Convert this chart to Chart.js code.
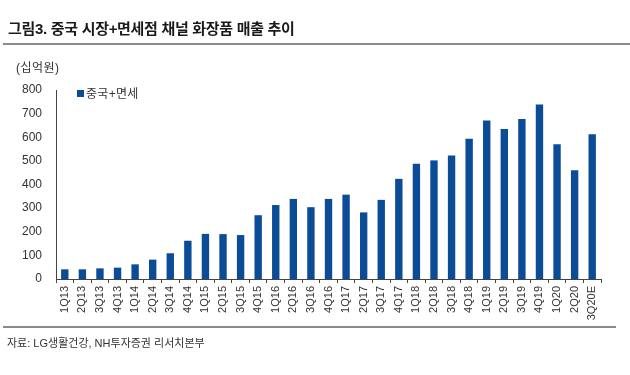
<!DOCTYPE html>
<html>
<head>
<meta charset="utf-8">
<script src="https://cdn.jsdelivr.net/npm/chart.js@4"></script>
<style>
  body { margin: 0; background: #fff; font-family: "Liberation Sans", "Noto Sans CJK KR", sans-serif; color: #222; }
  #wrap { position: relative; width: 630px; height: 375px; overflow: hidden; }
  #title { position: absolute; left: 8px; top: 17px; font-size: 15px; font-weight: bold; color: #1a1a1a; letter-spacing: -0.3px; }
  .rule { position: absolute; left: 3px; height: 2px; background: #8a8a8a; }
  #unit { position: absolute; left: 16px; top: 58px; font-size: 12px; color: #333; letter-spacing: 0.5px; }
  #legend { position: absolute; left: 77px; top: 84px; font-size: 12px; color: #333; letter-spacing: 0.3px; }
  #legend span { display: inline-block; width: 7px; height: 7px; background: #0b4c96; margin-right: 2px; vertical-align: 1px; }
  #source { position: absolute; left: 7px; top: 334px; font-size: 11px; color: #333; }
  canvas { position: absolute; left: 0; top: 0; }
</style>
</head>
<body>
<div id="wrap">
  <canvas id="salesChart" width="630" height="375"></canvas>
  <div id="title">그림3. 중국 시장+면세점 채널 화장품 매출 추이</div>
  <div class="rule" style="top:43px; width:627px;"></div>
  <div id="unit">(십억원)</div>
  <div id="legend"><span></span>중국+면세</div>
  <div class="rule" style="top:326px; width:613px;"></div>
  <div id="source">자료: LG생활건강, NH투자증권 리서치본부</div>
</div>
<script>
// 분기 라벨
const quarters = [
  "1Q13", "2Q13", "3Q13", "4Q13", "1Q14", "2Q14", "3Q14", "4Q14",
  "1Q15", "2Q15", "3Q15", "4Q15", "1Q16", "2Q16", "3Q16", "4Q16",
  "1Q17", "2Q17", "3Q17", "4Q17", "1Q18", "2Q18", "3Q18", "4Q18",
  "1Q19", "2Q19", "3Q19", "4Q19", "1Q20", "2Q20", "3Q20E"
];

// 중국+면세 매출 (십억원)
const chinaDutyFree = [
  41, 41, 45, 48, 62, 82, 109, 162,
  191, 190, 186, 270, 313, 339, 304, 339,
  357, 282, 335, 424, 488, 502, 523, 594,
  671, 635, 677, 739, 570, 460, 613
];

const yTicks = [0, 100, 200, 300, 400, 500, 600, 700, 800];

const axisColor = "#444";
const textColor = "#333";

const ctx = document.getElementById("salesChart");

new Chart(ctx, {
  type: "bar",
  data: {
    labels: quarters,
    datasets: [
      {
        label: "중국+면세",
        data: chinaDutyFree,
        backgroundColor: "#0b4c96",
        barPercentage: 0.42,
        categoryPercentage: 1,
      },
    ],
  },
  options: {
    responsive: false,
    animation: false,
    layout: { padding: { left: 0, right: 29, top: 90, bottom: 0 } },
    plugins: {
      legend: { display: false },
      tooltip: { enabled: false },
    },
    scales: {
      x: {
        grid: {
          display: true,
          drawOnChartArea: false,
          drawTicks: true,
          tickLength: 4,
          color: axisColor,
          offset: true,
        },
        border: { display: true, color: axisColor, width: 1 },
        ticks: {
          autoSkip: false,
          maxRotation: 90,
          minRotation: 90,
          padding: 3,
          color: textColor,
          font: { family: "Liberation Sans", size: 11 },
        },
        afterFit: (axis) => { axis.height = 96; },
      },
      y: {
        min: 0,
        max: 800,
        afterBuildTicks: (axis) => { axis.ticks = yTicks.map((v) => ({ value: v })); },
        grid: { display: false, drawTicks: false },
        border: { display: true, color: axisColor, width: 1 },
        ticks: {
          padding: 14,
          color: textColor,
          font: { family: "Liberation Sans", size: 12 },
        },
        afterFit: (axis) => { axis.width = 56; },
      },
    },
  },
});
</script>
</body>
</html>
